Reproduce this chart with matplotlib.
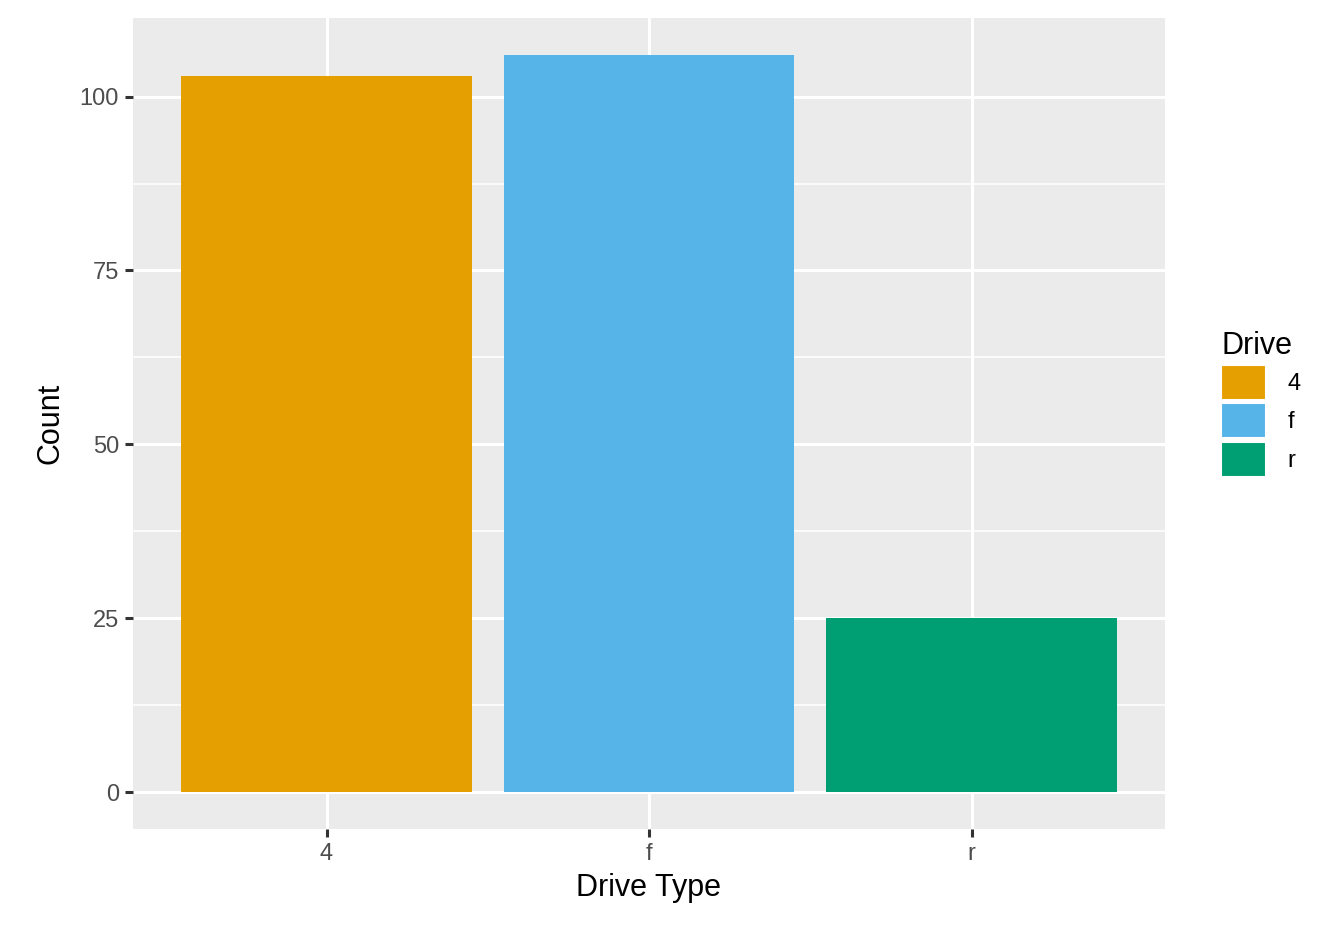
import matplotlib.pyplot as plt
import matplotlib.patches as mpatches

drive = ['4', 'f', 'r']
counts = [103, 106, 25]
colors = ['#E69F00', '#56B4E9', '#009E73']

plt.rcParams['font.family'] = ['Liberation Sans', 'DejaVu Sans']

fig = plt.figure(figsize=(13.44, 9.4), dpi=100)
ax = fig.add_axes([133 / 1344, 1 - 829 / 940, (1165 - 133) / 1344, (829 - 18) / 940])
ax.set_facecolor('#EBEBEB')

x = range(len(drive))
ax.bar(x, counts, width=0.9, color=colors, zorder=3)

ax.set_xlim(-0.6, 2.6)
ax.set_ylim(-5.3, 111.3)
ax.set_yticks([0, 25, 50, 75, 100])
ax.set_yticks([12.5, 37.5, 62.5, 87.5], minor=True)
ax.set_xticks(list(x))
ax.set_xticklabels(drive)
ax.grid(which='major', color='white', linewidth=2.2, zorder=0)
ax.grid(which='minor', axis='y', color='white', linewidth=1.1, zorder=0)
for s in ax.spines.values():
    s.set_visible(False)
ax.tick_params(which='major', length=6, width=2.2, color='#333333',
               labelsize=17, labelcolor='#4D4D4D', pad=4)
ax.tick_params(which='minor', length=0)

ax.set_xlabel('Drive Type', fontsize=22, labelpad=6)
ax.set_ylabel('Count', fontsize=22, labelpad=10)

handles = [mpatches.Patch(facecolor=c, edgecolor='white', linewidth=1.5, label=d)
           for d, c in zip(drive, colors)]
leg = fig.legend(handles=handles, title='Drive', loc='upper left',
                 bbox_to_anchor=(1212 / 1344, 1 - 322 / 940), frameon=False,
                 fontsize=17, title_fontsize=22, handlelength=1.9, handleheight=1.9,
                 handletextpad=0.9, labelspacing=0.15, borderaxespad=0)
leg._legend_box.align = 'left'

fig.savefig('out.png', dpi=100)
